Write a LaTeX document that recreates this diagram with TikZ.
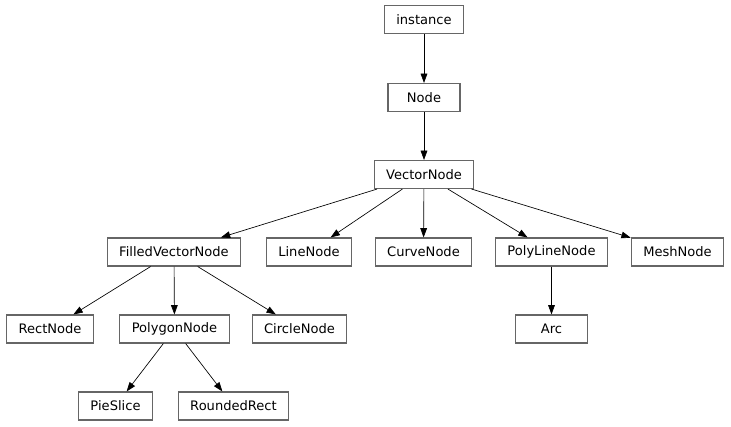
\documentclass[tikz,border=0pt]{standalone}
\usepackage{fontspec}
\setmainfont{DejaVu Sans}
\usetikzlibrary{arrows.meta}

\begin{document}
\begin{tikzpicture}[x=0.75pt, y=-0.75pt,
	cls/.style = {draw = gray!80!black, line width = 0.8pt, minimum height = 21pt, minimum width = 54pt, inner xsep = 9pt, font = \fontsize{9.8}{12}\selectfont},
	inh/.style = {-{Triangle[length = 7pt, width = 5pt]}, line width = 0.5pt}]
	\useasboundingbox (0,0) rectangle (731,427);

	\node [cls] (instance) at (424,19.5) {instance};
	\node [cls] (node) at (424,97.5) {Node};
	\node [cls] (vector) at (424,174.5) {VectorNode};

	\node [cls] (filled) at (174,252) {FilledVectorNode};
	\node [cls] (line) at (309,252) {LineNode};
	\node [cls] (curve) at (423.5,252) {CurveNode};
	\node [cls] (polyline) at (551.5,252) {PolyLineNode};
	\node [cls] (mesh) at (677.5,252) {MeshNode};

	\node [cls] (rect) at (50,329) {RectNode};
	\node [cls] (polygon) at (174.5,329) {PolygonNode};
	\node [cls] (circle) at (299.5,329) {CircleNode};
	\node [cls] (arc) at (551.5,329) {Arc};

	\node [cls] (pie) at (115.5,406) {PieSlice};
	\node [cls] (rounded) at (233.5,406) {RoundedRect};

	\begin{scope}[inh]
		\draw (instance) -- (node);
		\draw (node) -- (vector);
		\foreach \child in {filled, line, curve, polyline, mesh}
			\draw (vector) -- (\child);
		\foreach \child in {rect, polygon, circle}
			\draw (filled) -- (\child);
		\draw (polyline) -- (arc);
		\draw (polygon) -- (pie);
		\draw (polygon) -- (rounded);
	\end{scope}
\end{tikzpicture}
\end{document}
